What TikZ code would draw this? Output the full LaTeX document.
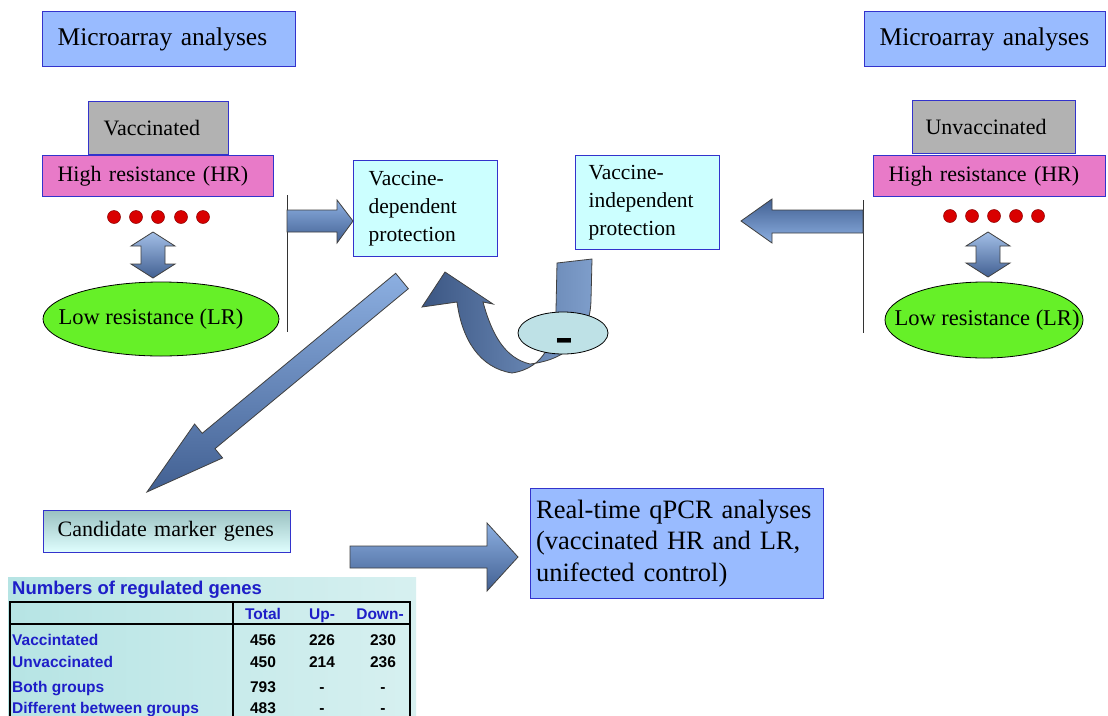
\documentclass[tikz,border=0pt]{standalone}
\usepackage{fontspec}
\setmainfont{Liberation Serif}
\newfontfamily\tabfont{Liberation Sans}
\usetikzlibrary{shapes.geometric}

\definecolor{mablue}{RGB}{153,187,255}
\definecolor{edgeblue}{RGB}{51,51,204}
\definecolor{vgray}{RGB}{178,178,178}
\definecolor{hrpink}{RGB}{232,122,200}
\definecolor{lrgreen}{RGB}{102,240,40}
\definecolor{protcyan}{RGB}{204,255,255}
\definecolor{arrowlight}{RGB}{140,175,225}
\definecolor{arrowdark}{RGB}{66,96,146}
\definecolor{tabblue}{RGB}{30,30,200}
\definecolor{tabbg}{RGB}{182,228,228}
\definecolor{inhibfill}{RGB}{190,225,230}

\newcommand{\matxt}{\fontsize{25.5}{30}\selectfont}
\newcommand{\labtxt}{\fontsize{22}{26}\selectfont}
\newcommand{\lrtxt}{\fontsize{22.5}{26}\selectfont}
\newcommand{\prottxt}{\fontsize{21.5}{28}\selectfont}
\newcommand{\qpcrtxt}{\fontsize{26.5}{31.5}\selectfont}
\newcommand{\tabtxt}{\tabfont\bfseries\fontsize{15.5}{18}\selectfont}

\tikzset{
  box/.style={draw=edgeblue, line width=1.2pt, anchor=north west, align=left, inner ysep=0pt},
  lrnode/.style={draw=black, line width=0.8pt, ellipse, fill=lrgreen, inner sep=0pt},
  bigarrow/.style={draw=black!75, line width=0.8pt, top color=arrowlight, bottom color=arrowdark},
  reddot/.style={fill=red!85!black, draw=red!55!black, line width=0.5pt},
  rowlabel/.style={anchor=base west, text=tabblue, font=\tabtxt, inner sep=0pt},
  colhead/.style={anchor=base, text=tabblue, font=\tabtxt, inner sep=0pt},
  cellnum/.style={anchor=base, font=\tabtxt, inner sep=0pt},
}

\begin{document}
\begin{tikzpicture}[x=1pt, y=-1pt]
\useasboundingbox (0,0) rectangle (1108,715);
\fill[white] (0,0) rectangle (1108,715);

% left group
\node[box, fill=mablue, minimum width=253pt, minimum height=55pt, inner xsep=15pt, text width=223pt, font=\matxt] (ma1) at (42,11) {Microarray analyses};
\node[box, fill=vgray, minimum width=140pt, minimum height=53pt, inner xsep=15pt, text width=110pt, font=\labtxt] (vac) at (88,101) {Vaccinated};
\node[box, fill=hrpink, minimum width=231pt, minimum height=41pt, inner xsep=15pt, text width=201pt, font=\labtxt] (hr1) at (42,155) {High resistance (HR)};
\fill[reddot] (114,217) circle (6.5);
\fill[reddot] (136,217) circle (6.5);
\fill[reddot] (158,217) circle (6.5);
\fill[reddot] (181,217) circle (6.5);
\fill[reddot] (203,217) circle (6.5);
\draw[bigarrow, top color=arrowlight!80!white] (153,232) -- (175,246) -- (165,246) -- (165,264) -- (175,264) -- (153,278) -- (131,264) -- (141,264) -- (141,246) -- (131,246) -- cycle;
\node[lrnode, minimum width=236pt, minimum height=74pt] (lr1) at (161,319) {};
\node[font=\lrtxt, inner sep=0pt] (lr1txt) at (151,319) {Low resistance (LR)};
\draw[black!80, line width=1pt] (287,195) -- (287,332);

% right group
\node[box, fill=mablue, minimum width=241pt, minimum height=55pt, inner xsep=15pt, text width=211pt, font=\matxt] (ma2) at (864,11) {Microarray analyses};
\node[box, fill=vgray, minimum width=163pt, minimum height=53pt, inner xsep=13pt, text width=137pt, font=\labtxt] (uvac) at (912,100) {Unvaccinated};
\node[box, fill=hrpink, minimum width=232pt, minimum height=41pt, inner xsep=15pt, text width=202pt, font=\labtxt] (hr2) at (873,155) {High resistance (HR)};
\fill[reddot] (950,216) circle (6.5);
\fill[reddot] (972,216) circle (6.5);
\fill[reddot] (994,216) circle (6.5);
\fill[reddot] (1016,216) circle (6.5);
\fill[reddot] (1038,216) circle (6.5);
\draw[bigarrow, top color=arrowlight!80!white] (988,232) -- (1010,246) -- (1000,246) -- (1000,263) -- (1010,263) -- (988,277) -- (966,263) -- (976,263) -- (976,246) -- (966,246) -- cycle;
\node[lrnode, minimum width=198pt, minimum height=76pt] (lr2) at (984,320) {};
\node[font=\lrtxt, inner sep=0pt] (lr2txt) at (987,320) {Low resistance (LR)};
\draw[black!80, line width=1pt] (863,200) -- (863,333);

% protection boxes
\node[box, fill=protcyan, minimum width=144pt, minimum height=96pt, inner xsep=15pt, text width=114pt, font=\prottxt] (vdep) at (353,160) {Vaccine-\\dependent\\protection};
\node[box, fill=protcyan, minimum width=144pt, minimum height=94pt, inner xsep=13pt, text width=118pt, font=\prottxt] (vindep) at (575,155) {Vaccine-\\independent\\protection};

% block arrows
\draw[bigarrow] (287,210) -- (337,210) -- (337,200) -- (353,221) -- (337,243) -- (337,232) -- (287,232) -- cycle;
\draw[bigarrow, top color=arrowdark, bottom color=arrowlight] (863,210) -- (772,210) -- (772,199) -- (741,221) -- (772,243) -- (772,233) -- (863,233) -- cycle;
\begin{scope}[shift={(402,281)}, rotate=-140.4]
  \draw[bigarrow] (0,-10) -- (251,-10) -- (251,-22) -- (331,0) -- (251,22) -- (251,10) -- (0,10) -- cycle;
\end{scope}
\draw[bigarrow] (350,546) -- (487,546) -- (487,523) -- (518,557) -- (487,591) -- (487,568) -- (350,568) -- cycle;

% curved inhibition arrow
\draw[draw=black!75, line width=0.8pt, left color=arrowdark!90!black, right color=arrowlight!90!black]
  (445,272) -- (493,304) -- (483,302)
  .. controls (492,335) and (505,358) .. (530,364)
  .. controls (565,360) and (590,340) .. (591,300)
  -- (592,259) -- (557,263) -- (556,310)
  .. controls (555,340) and (545,368) .. (512,373)
  .. controls (480,368) and (462,340) .. (457,302)
  -- (422,307) -- cycle;
\node[draw=black, line width=0.8pt, ellipse, fill=inhibfill, minimum width=90pt, minimum height=42pt] (inhib) at (563,333) {};
\node[font=\bfseries\fontsize{54}{54}\selectfont, inner sep=0pt] (minus) at (564,346) {-};

% lower boxes
\node[box, top color=tabbg!85!black, bottom color=protcyan!60!white, minimum width=247pt, minimum height=42pt, inner xsep=14pt, text width=219pt, font=\labtxt] (cand) at (43,510) {Candidate marker genes};
\node[box, fill=mablue, minimum width=293pt, minimum height=110pt, inner xsep=5.5pt, text width=282pt, font=\qpcrtxt] (qpcr) at (530,488) {Real-time qPCR analyses\\(vaccinated HR and LR,\\unifected control)};

% table
\shade[left color=tabbg, right color=tabbg!55!white] (8,577) rectangle (416,716);
\node[anchor=west, text=tabblue, font=\tabfont\bfseries\fontsize{18.5}{20}\selectfont, inner sep=0pt] (tabtitle) at (12,590) {Numbers of regulated genes};
\draw[line width=2.5pt] (10,720) -- (10,602) -- (410,602) -- (410,720);
\draw[line width=2.5pt] (10,624) -- (410,624);
\draw[line width=2.5pt] (233,602) -- (233,720);
\node[colhead] (htot) at (263,619) {Total};
\node[colhead] (hup) at (322,619) {Up-};
\node[colhead] (hdown) at (380,619) {Down-};
\node[rowlabel] (r1) at (12,645) {Vaccintated};
\node[rowlabel] (r2) at (12,667) {Unvaccinated};
\node[rowlabel] (r3) at (12,692) {Both groups};
\node[rowlabel] (r4) at (12,713) {Different between groups};
\node[cellnum] (n11) at (263,645) {456};
\node[cellnum] (n12) at (322,645) {226};
\node[cellnum] (n13) at (383,645) {230};
\node[cellnum] (n21) at (263,667) {450};
\node[cellnum] (n22) at (322,667) {214};
\node[cellnum] (n23) at (383,667) {236};
\node[cellnum] (n31) at (263,692) {793};
\node[cellnum] (n32) at (322,692) {-};
\node[cellnum] (n33) at (383,692) {-};
\node[cellnum] (n41) at (263,713) {483};
\node[cellnum] (n42) at (322,713) {-};
\node[cellnum] (n43) at (383,713) {-};
\end{tikzpicture}
\end{document}
